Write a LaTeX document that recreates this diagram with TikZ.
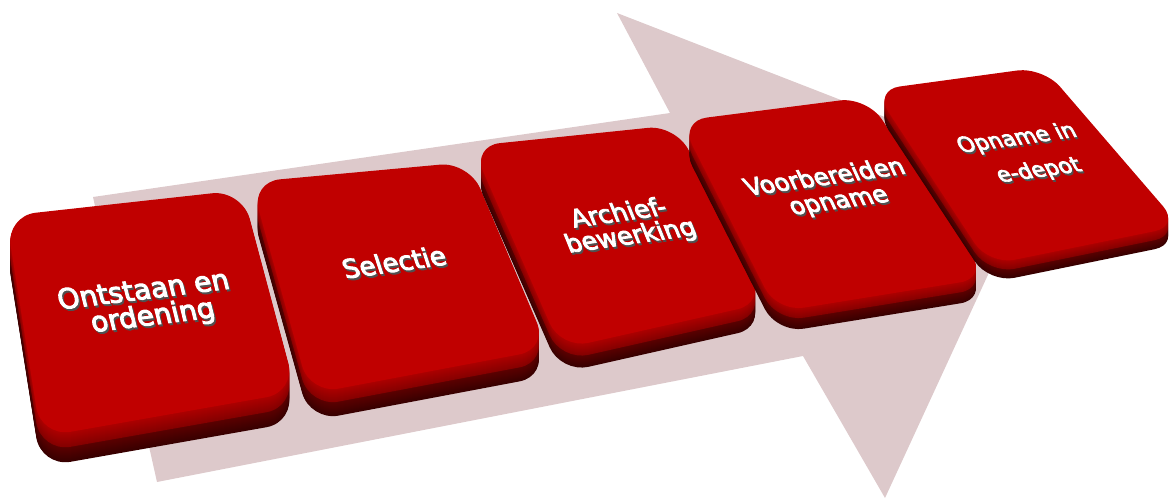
\documentclass[tikz,border=0pt]{standalone}
\usepackage{fontspec}
\newfontfamily\keyfont{DejaVu Sans}[FakeBold=3.5]
\definecolor{arrowpink}{RGB}{221,201,203}
\definecolor{keyred}{RGB}{192,0,0}
\definecolor{bevellight}{RGB}{170,0,0}
\definecolor{beveldark}{RGB}{130,0,0}
\definecolor{sidelight}{RGB}{92,0,0}
\definecolor{sidedark}{RGB}{56,0,0}
\definecolor{rimgrey}{RGB}{80,80,80}
\tikzset{
  keyface/.style={fill=keyred},
  labelbase/.style={inner sep=0pt},
  labelrim/.style={labelbase, text=rimgrey},
  labelmain/.style={labelbase, text=white},
}
% #1-#4 face corners, #5 thickness, #6 corner radius
\newcommand\keycap[6]{%
  \foreach \k in {#5,...,1}{%
    \pgfmathsetmacro\half{#5/2}%
    \ifdim \k pt>\half pt
      \pgfmathtruncatemacro\p{100*(\k-\half)/\half}%
      \fill[sidedark!\p!sidelight, shift={(0,\k)}, rounded corners=#6] (#1) -- (#2) -- (#3) -- (#4) -- cycle;
    \else
      \pgfmathtruncatemacro\p{100*(\k-1)/\half}%
      \fill[beveldark!\p!bevellight, shift={(0,\k)}, rounded corners=#6] (#1) -- (#2) -- (#3) -- (#4) -- cycle;
    \fi
  }%
  \fill[keyface, rounded corners=#6] (#1) -- (#2) -- (#3) -- (#4) -- cycle;
}
% #1 name, #2 x, #3 y, #4 font size, #5 angle, #6 slant, #7 text
\newcommand\keyline[7]{%
  \node[labelrim, rotate=#5, xslant=#6, font=\keyfont\fontsize{#4}{#4}\selectfont] (#1r) at (#2+1.5,#3+2) {#7};
  \node[labelmain, rotate=#5, xslant=#6, font=\keyfont\fontsize{#4}{#4}\selectfont] (#1) at (#2,#3) {#7};
}
\begin{document}
\begin{tikzpicture}[x=1pt,y=-1pt]
\useasboundingbox (0,0) rectangle (1169,502);
% background arrow
\fill[arrowpink] (93,197) -- (670,113) -- (617,13) -- (1034,175) -- (885,498) -- (803,356) -- (157,482) -- cycle;
% keys
\keycap{6,216}{242,190}{296,392}{41,437}{30}{30}
\keycap{251,182}{469,162}{548,349}{310,394}{27}{29}
\keycap{472,146}{676,125}{765,303}{561,349}{24}{28}
\keycap{680,121}{867,97}{987,278}{777,312}{21}{27}
\keycap{874,90}{1043,67}{1180,226}{989,265}{18}{26}
% labels
\keyline{t1a}{143}{289}{28}{7}{-0.12}{Ontstaan en}
\keyline{t1b}{153}{317}{28}{7}{-0.12}{ordening}
\keyline{t2}{394}{262}{26}{8}{-0.18}{Selectie}
\keyline{t3a}{618}{212}{25}{8}{-0.25}{Archief-}
\keyline{t3b}{631}{237}{25}{8}{-0.25}{bewerking}
\keyline{t4a}{824}{176}{24}{8}{-0.3}{Voorbereiden}
\keyline{t4b}{840}{204}{24}{8}{-0.3}{opname}
\keyline{t5a}{1017}{139}{21.5}{8}{-0.35}{Opname in}
\keyline{t5b}{1039}{171}{21.5}{8}{-0.35}{e-depot}
\end{tikzpicture}
\end{document}
